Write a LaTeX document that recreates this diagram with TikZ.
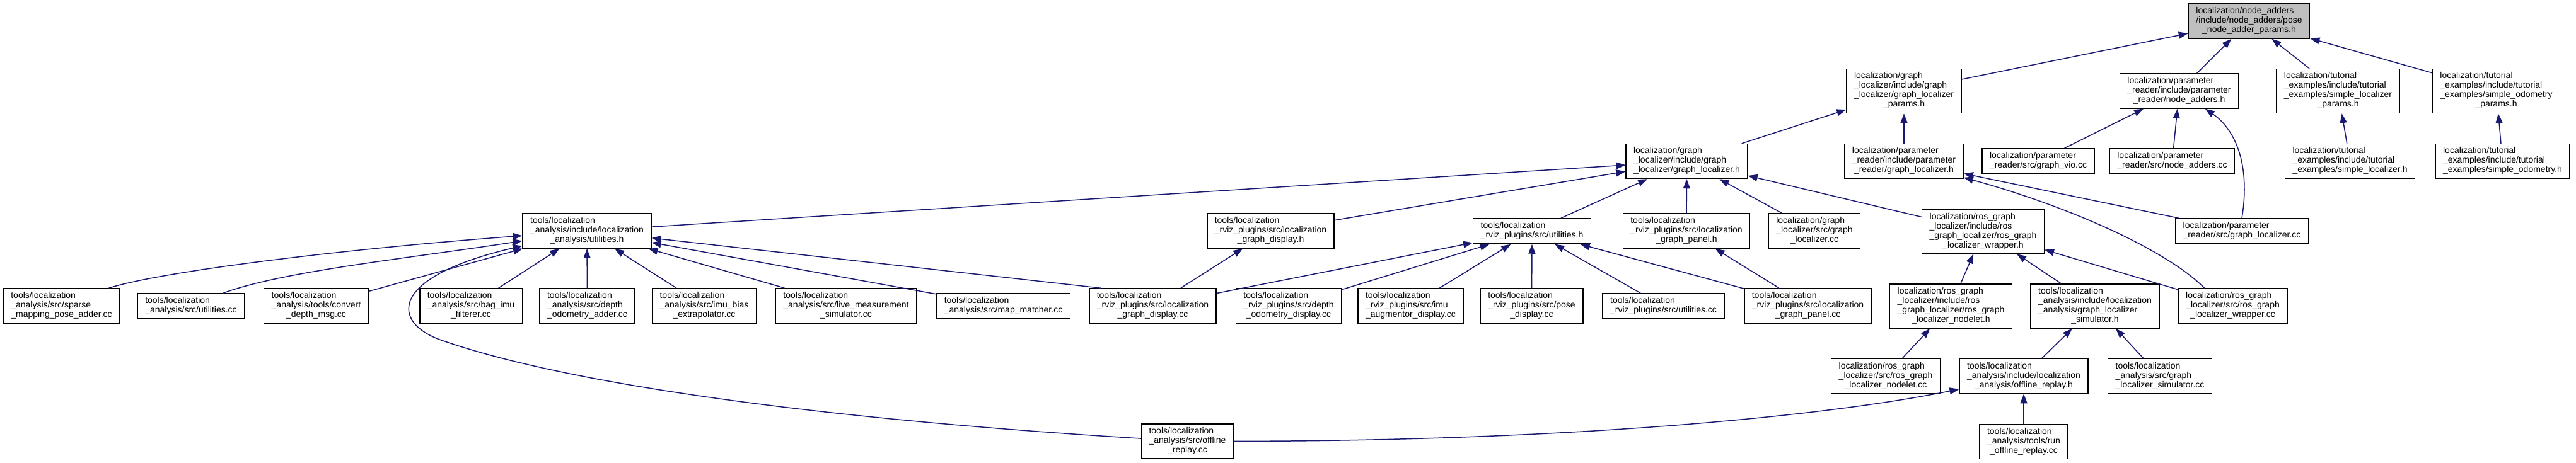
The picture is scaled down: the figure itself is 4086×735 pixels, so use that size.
\documentclass[tikz,border=0pt]{standalone}
\usepackage{fontspec}
\setmainfont{Liberation Sans}
\definecolor{edgeblue}{HTML}{191970}
\definecolor{rootgray}{HTML}{BFBFBF}
\usetikzlibrary{arrows.meta}
\newcommand{\fname}[2]{\begin{tabular}{@{}l@{}}#1\\\multicolumn{1}{@{}c@{}}{#2}\end{tabular}}

\begin{document}
\begin{tikzpicture}[x=1pt, y=-1pt,
  file/.style={draw=black, line width=1.5pt, fill=white, inner xsep=12pt, inner ysep=5pt, font=\fontsize{14}{15}\selectfont},
  rootfile/.style={file, fill=rootgray},
  dep/.style={draw=edgeblue, line width=1.5pt, -{Triangle[length=15pt,width=11pt]}}]
  \useasboundingbox (0,0) rectangle (4086,735);

  % headers
  \node[rootfile] (padr) at (3567.5,33.5) {\fname{localization/node\_adders\\/include/node\_adders/pose}{\_node\_adder\_params.h}};
  \node[file] (glprm) at (3020,144.5) {\fname{localization/graph\\\_localizer/include/graph\\\_localizer/graph\_localizer}{\_params.h}};
  \node[file] (nadh) at (3456.5,144.5) {\fname{localization/parameter\\\_reader/include/parameter}{\_reader/node\_adders.h}};
  \node[file] (slprm) at (3708.5,144.5) {\fname{localization/tutorial\\\_examples/include/tutorial\\\_examples/simple\_localizer}{\_params.h}};
  \node[file] (soprm) at (3959.5,144.5) {\fname{localization/tutorial\\\_examples/include/tutorial\\\_examples/simple\_odometry}{\_params.h}};
  \node[file] (glh) at (2675.5,256) {\fname{localization/graph\\\_localizer/include/graph}{\_localizer/graph\_localizer.h}};
  \node[file] (prglh) at (3020,256) {\fname{localization/parameter\\\_reader/include/parameter}{\_reader/graph\_localizer.h}};
  \node[file] (gvio) at (3233,256) {\fname{localization/parameter}{\_reader/src/graph\_vio.cc}};
  \node[file] (nadcc) at (3445.5,256) {\fname{localization/parameter}{\_reader/src/node\_adders.cc}};
  \node[file] (slh) at (3727.5,256) {\fname{localization/tutorial\\\_examples/include/tutorial}{\_examples/simple\_localizer.h}};
  \node[file] (soh) at (3969.5,256) {\fname{localization/tutorial\\\_examples/include/tutorial}{\_examples/simple\_odometry.h}};
  \node[file] (autilh) at (931,366.5) {\fname{tools/localization\\\_analysis/include/localization}{\_analysis/utilities.h}};
  \node[file] (gdisph) at (2015.5,366.5) {\fname{tools/localization\\\_rviz\_plugins/src/localization}{\_graph\_display.h}};
  \node[file] (rutilh) at (2430,367) {\fname{tools/localization}{\_rviz\_plugins/src/utilities.h}};
  \node[file] (gpanh) at (2675,366.5) {\fname{tools/localization\\\_rviz\_plugins/src/localization}{\_graph\_panel.h}};
  \node[file] (glcc) at (2878,366.5) {\fname{localization/graph\\\_localizer/src/graph}{\_localizer.cc}};
  \node[file] (wraph) at (3145.5,367.5) {\fname{localization/ros\_graph\\\_localizer/include/ros\\\_graph\_localizer/ros\_graph}{\_localizer\_wrapper.h}};
  \node[file] (prglcc) at (3556,367) {\fname{localization/parameter}{\_reader/src/graph\_localizer.cc}};

  % sources
  \node[file] (spadd) at (97.5,485.5) {\fname{tools/localization\\\_analysis/src/sparse}{\_mapping\_pose\_adder.cc}};
  \node[file] (autilcc) at (303,486) {\fname{tools/localization}{\_analysis/src/utilities.cc}};
  \node[file] (cdepth) at (501.5,485.5) {\fname{tools/localization\\\_analysis/tools/convert}{\_depth\_msg.cc}};
  \node[file] (bagimu) at (747,485.5) {\fname{tools/localization\\\_analysis/src/bag\_imu}{\_filterer.cc}};
  \node[file] (dodadd) at (931.5,485.5) {\fname{tools/localization\\\_analysis/src/depth}{\_odometry\_adder.cc}};
  \node[file] (imubias) at (1117,485.5) {\fname{tools/localization\\\_analysis/src/imu\_bias}{\_extrapolator.cc}};
  \node[file] (livems) at (1342,485.5) {\fname{tools/localization\\\_analysis/src/live\_measurement}{\_simulator.cc}};
  \node[file] (mapm) at (1591.5,486) {\fname{tools/localization}{\_analysis/src/map\_matcher.cc}};
  \node[file] (gdispcc) at (1828.5,485.5) {\fname{tools/localization\\\_rviz\_plugins/src/localization}{\_graph\_display.cc}};
  \node[file] (dodisp) at (2044,485.5) {\fname{tools/localization\\\_rviz\_plugins/src/depth}{\_odometry\_display.cc}};
  \node[file] (imuaug) at (2237.5,485.5) {\fname{tools/localization\\\_rviz\_plugins/src/imu}{\_augmentor\_display.cc}};
  \node[file] (posed) at (2429.5,485.5) {\fname{tools/localization\\\_rviz\_plugins/src/pose}{\_display.cc}};
  \node[file] (rutilcc) at (2638.5,486) {\fname{tools/localization}{\_rviz\_plugins/src/utilities.cc}};
  \node[file] (gpancc) at (2867.5,485.5) {\fname{tools/localization\\\_rviz\_plugins/src/localization}{\_graph\_panel.cc}};
  \node[file] (nodeleth) at (3094.5,486) {\fname{localization/ros\_graph\\\_localizer/include/ros\\\_graph\_localizer/ros\_graph}{\_localizer\_nodelet.h}};
  \node[file] (simh) at (3323,486) {\fname{tools/localization\\\_analysis/include/localization\\\_analysis/graph\_localizer}{\_simulator.h}};
  \node[file] (wrapcc) at (3541.5,485.5) {\fname{localization/ros\_graph\\\_localizer/src/ros\_graph}{\_localizer\_wrapper.cc}};
  \node[file] (nodeletcc) at (2991,597) {\fname{localization/ros\_graph\\\_localizer/src/ros\_graph}{\_localizer\_nodelet.cc}};
  \node[file] (oreph) at (3210,597) {\fname{tools/localization\\\_analysis/include/localization}{\_analysis/offline\_replay.h}};
  \node[file] (simcc) at (3426,597) {\fname{tools/localization\\\_analysis/src/graph}{\_localizer\_simulator.cc}};
  \node[file] (orepcc) at (1883.5,700.5) {\fname{tools/localization\\\_analysis/src/offline}{\_replay.cc}};
  \node[file] (runrep) at (3210,701) {\fname{tools/localization\\\_analysis/tools/run}{\_offline\_replay.cc}};

  % includes
  \foreach \a/\b in {glprm/padr, nadh/padr, slprm/padr, soprm/padr, glh/glprm, prglh/glprm,
      gvio/nadh, nadcc/nadh, slh/slprm, soh/soprm, autilh/glh, gdisph/glh, rutilh/glh,
      gpanh/glh, glcc/glh, wraph/glh, prglcc/prglh, nodeleth/wraph, simh/wraph, wrapcc/wraph,
      nodeletcc/nodeleth, oreph/simh, simcc/simh, runrep/oreph, cdepth/autilh, bagimu/autilh,
      dodadd/autilh, imubias/autilh, livems/autilh, mapm/autilh, gdispcc/gdisph,
      gdispcc/rutilh, dodisp/rutilh, imuaug/rutilh, posed/rutilh, rutilcc/rutilh,
      gpancc/rutilh, gpancc/gpanh}
    \draw[dep] (\a) -- (\b);
  \draw[dep] ([xshift=19pt]gdispcc.north west) -- (autilh);
  \draw[dep] (prglcc.north) .. controls (3570,260) and (3545,205) .. (nadh);
  \draw[dep] ([xshift=-45pt]wrapcc.north) .. controls (3440,400) and (3290,330) .. (prglh);
  \draw[dep] (orepcc) .. controls (2500,700) and (2900,660) .. (oreph);
  \draw[dep] ([xshift=75pt]spadd.north) .. controls (260,430) and (550,395) .. (autilh);
  \draw[dep] ([xshift=51pt]autilcc.north) .. controls (450,430) and (650,410) .. (autilh);
  \draw[dep] (orepcc) .. controls (1300,665) and (900,610) .. (700,540)
    .. controls (620,512) and (615,440) .. (autilh);
\end{tikzpicture}
\end{document}
